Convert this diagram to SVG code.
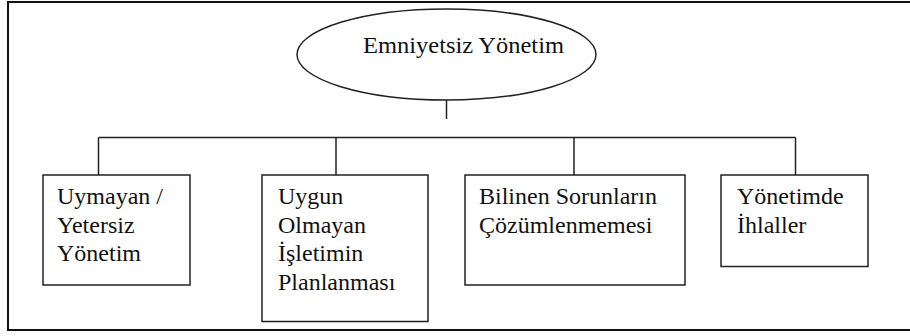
<svg xmlns="http://www.w3.org/2000/svg" width="910" height="336" viewBox="0 0 910 336">
  <style>
    .frame { fill: none; stroke: #111; stroke-width: 2; }
    .node { fill: #fff; stroke: #222; stroke-width: 1.5; }
    .link { fill: none; stroke: #222; stroke-width: 1.5; }
    text { font-family: 'Liberation Serif', 'Times New Roman', serif; font-size: 24px; fill: #111; }
  </style>
  <rect width="910" height="336" fill="#fff"/>
  <!-- open frame: top, left and bottom sides -->
  <path class="frame" d="M910 2 H8 V330 H910"/>

  <g id="connectors">
    <line class="link" x1="446.5" y1="100" x2="446.5" y2="119"/>
    <line class="link" x1="98.5" y1="137.5" x2="795.5" y2="137.5"/>
    <line class="link" x1="98.5" y1="137.5" x2="98.5" y2="175"/>
    <line class="link" x1="336" y1="137.5" x2="336" y2="175"/>
    <line class="link" x1="574" y1="137.5" x2="574" y2="175"/>
    <line class="link" x1="795.5" y1="137.5" x2="795.5" y2="175"/>
  </g>

  <g id="root">
    <ellipse class="node" cx="446.5" cy="54.5" rx="149.5" ry="45.5" stroke-width="1.3"/>
    <text x="363" y="53" textLength="201" lengthAdjust="spacingAndGlyphs">Emniyetsiz Yönetim</text>
  </g>

  <g id="uymayan">
    <rect class="node" x="43" y="175" width="147" height="110"/>
    <text x="57" y="204">Uymayan /</text>
    <text x="57" y="232.5">Yetersiz</text>
    <text x="57" y="261">Yönetim</text>
  </g>

  <g id="uygun">
    <rect class="node" x="262" y="175" width="166" height="146.5"/>
    <text x="278" y="204">Uygun</text>
    <text x="278" y="232.5">Olmayan</text>
    <text x="278" y="261">İşletimin</text>
    <text x="278" y="289.5">Planlanması</text>
  </g>

  <g id="bilinen">
    <rect class="node" x="465" y="175" width="220" height="110"/>
    <text x="479" y="204">Bilinen Sorunların</text>
    <text x="479" y="232.5">Çözümlenmemesi</text>
  </g>

  <g id="ihlaller">
    <rect class="node" x="721" y="175" width="147" height="91.5"/>
    <text x="737" y="204">Yönetimde</text>
    <text x="737" y="232.5">İhlaller</text>
  </g>
</svg>
